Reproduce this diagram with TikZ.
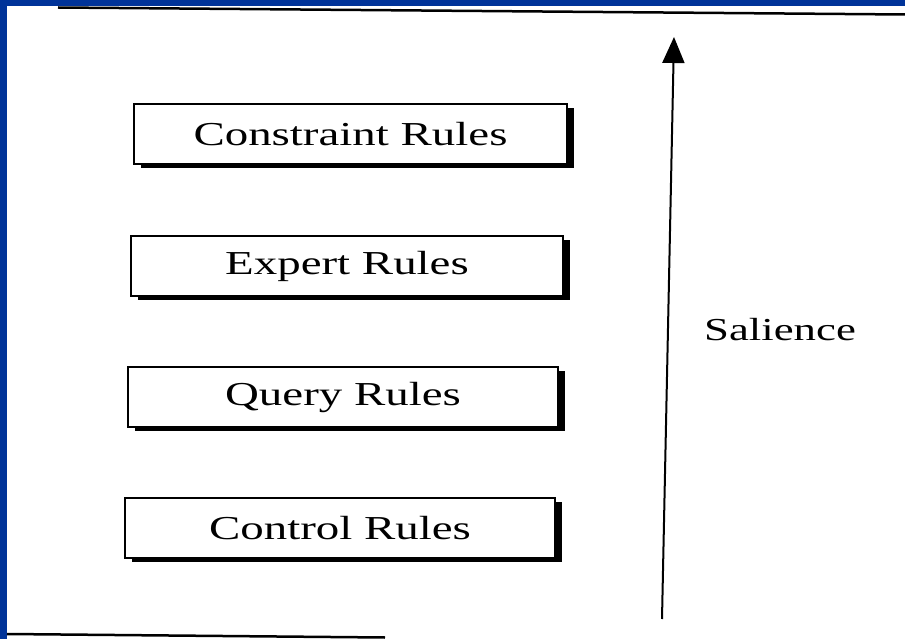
\documentclass[tikz,border=0pt]{standalone}
\usepackage{fontspec}
\newfontfamily\rulefont[FakeStretch=1.4]{Liberation Serif}
\usetikzlibrary{arrows.meta,shadows}
\definecolor{slideblue}{RGB}{0,51,153}
\begin{document}
\begin{tikzpicture}[x=1pt,y=-1pt,
  rulebox/.style={draw=black,line width=2pt,fill=white,minimum height=60pt,
    inner sep=0pt,font=\rulefont\fontsize{33.5}{40}\selectfont,
    drop shadow={shadow xshift=7pt,shadow yshift=-4pt,fill=black,opacity=1}},
  scanline/.style={line width=2.5pt,black},
  salarrow/.style={line width=2pt,-{Triangle[width=22pt,length=26pt]}}]
\useasboundingbox (0,0) rectangle (905,639);
\fill[white] (0,0) rectangle (905,639);
% blue frame
\fill[slideblue] (0,0) rectangle (905,6.5);
\fill[slideblue] (0,0) rectangle (7,639);
% scan edge lines
\coordinate (tl) at (58,7.5);
\coordinate (tr) at (905,14.5);
\draw[scanline] (tl) -- (tr);
\coordinate (bl) at (7,634);
\coordinate (br) at (385,637.5);
\draw[scanline] (bl) -- (br);
% boxes
\node[rulebox,minimum width=433pt] (constraint) at (350.5,134) {Constraint Rules};
\node[rulebox,minimum width=432pt] (expert) at (347,266) {Expert Rules};
\node[rulebox,minimum width=430pt] (query) at (343,397) {Query Rules};
\node[rulebox,minimum width=430pt] (control) at (340,528) {Control Rules};
% salience arrow
\coordinate (sbot) at (662,619);
\coordinate (stop) at (674,37);
\draw[salarrow] (sbot) -- (stop);
\node[font=\rulefont\fontsize{32}{38}\selectfont] (salience) at (780,330) {Salience};
\end{tikzpicture}
\end{document}
